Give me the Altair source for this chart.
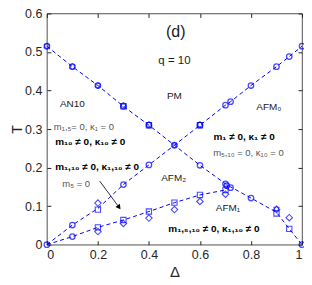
import altair as alt
import pandas as pd

# ---------------- data ----------------
# PM boundary (upper V-shaped dashed line)
up_delta = [0, 0.1, 0.2, 0.3, 0.4, 0.5, 0.6, 0.7, 0.72, 0.8, 0.9, 0.95, 1.0]
up_T = [0.515, 0.462, 0.413, 0.359, 0.310, 0.258, 0.310, 0.362, 0.371, 0.413, 0.462, 0.488, 0.515]

# AFM2 upper boundary (Λ-shaped dashed line)
mid_delta = [0, 0.1, 0.2, 0.3, 0.4, 0.5, 0.6, 0.7, 0.72, 0.8, 0.9, 0.95, 1.0]
mid_T = [0, 0.051, 0.094, 0.156, 0.207, 0.258, 0.206, 0.158, 0.150, 0.121, 0.084, 0.041, 0]

# AFM2 / AFM1 boundary (lower dashed line)
low_delta = [0, 0.1, 0.2, 0.3, 0.4, 0.5, 0.6, 0.7, 0.71]
low_T = [0, 0.021, 0.045, 0.064, 0.086, 0.109, 0.129, 0.142, 0.152]

# markers
circ_delta = up_delta + [0.1, 0.3, 0.4, 0.6, 0.7, 0.705, 0.72, 0.8, 1.0, 0.1, 0.0]
circ_T = up_T + [0.051, 0.156, 0.207, 0.206, 0.158, 0.153, 0.148, 0.121, 0.0, 0.021, 0.0]

sq_delta = [0.3, 0.4, 0.6, 0.2, 0.9, 0.95, 0.2, 0.3, 0.4, 0.5, 0.6, 0.7]
sq_T = [0.359, 0.310, 0.310, 0.091, 0.081, 0.041, 0.045, 0.064, 0.086, 0.109, 0.129, 0.142]

di_delta = [0.2, 0.9, 0.95, 0.2, 0.3, 0.4, 0.5, 0.6, 0.7]
di_T = [0.108, 0.091, 0.070, 0.034, 0.055, 0.069, 0.091, 0.112, 0.131]

hex_delta = [0, 0.1, 0.2, 0.3, 0.4, 0.5, 0.6, 0.9]
hex_T = [0.515, 0.462, 0.413, 0.362, 0.312, 0.258, 0.312, 0.093]

x_ticks = [0, 0.2, 0.4, 0.6, 0.8, 1]
y_ticks = [0, 0.1, 0.2, 0.3, 0.4, 0.5, 0.6]

# annotations
plain_text = ["(d)", "q = 10", "PM", "AN10", "AFM₀", "AFM₂", "AFM₁"]
plain_delta = [0.505, 0.50, 0.50, 0.10, 0.87, 0.497, 0.71]
plain_T = [0.553, 0.476, 0.387, 0.366, 0.356, 0.173, 0.094]
plain_size = [16, 11.5, 10, 10, 10, 10, 10]

gray_text = ["m₁,₅= 0, κ₁ = 0", "m₅,₁₀ = 0, κ₁₀ = 0", "m₅ = 0"]
gray_delta = [0.145, 0.79, 0.115]
gray_T = [0.305, 0.237, 0.158]

bold_text = ["m₁₀ ≠ 0, κ₁₀ ≠ 0", "m₁,₁₀ ≠ 0, κ₁,₁₀ ≠ 0", "m₁ ≠ 0, κ₁ ≠ 0", "m₁,₅,₁₀ ≠ 0, κ₁,₁₀ ≠ 0"]
bold_delta = [0.17, 0.197, 0.773, 0.655]
bold_T = [0.267, 0.201, 0.280, 0.041]

arrow_delta = [0.207, 0.283]
arrow_T = [0.165, 0.097]

# ---------------- build tables ----------------
lines_df = pd.concat([
    pd.DataFrame({"delta": up_delta, "T": up_T, "g": "up"}),
    pd.DataFrame({"delta": mid_delta, "T": mid_T, "g": "mid"}),
    pd.DataFrame({"delta": low_delta, "T": low_T, "g": "low"}),
])
circ_df = pd.DataFrame({"delta": circ_delta, "T": circ_T})
sq_df = pd.DataFrame({"delta": sq_delta, "T": sq_T})
di_df = pd.DataFrame({"delta": di_delta, "T": di_T})
hex_df = pd.DataFrame({"delta": hex_delta, "T": hex_T})
plain_df = pd.DataFrame({"delta": plain_delta, "T": plain_T, "text": plain_text, "size": plain_size})
gray_df = pd.DataFrame({"delta": gray_delta, "T": gray_T, "text": gray_text})
bold_df = pd.DataFrame({"delta": bold_delta, "T": bold_T, "text": bold_text})
arrow_df = pd.DataFrame({"delta": [arrow_delta[0]], "T": [arrow_T[0]],
                         "delta2": [arrow_delta[1]], "T2": [arrow_T[1]]})
head_df = pd.DataFrame({"delta": [arrow_delta[1]], "T": [arrow_T[1]]})

BLUE = "#0000ff"
FONT = "Liberation Sans"
TXT = "Liberation Sans, DejaVu Sans"
xs = alt.Scale(domain=[0, 1], nice=False)
ys = alt.Scale(domain=[0, 0.6], nice=False)

common_axis = dict(domain=False, grid=False, tickSize=4, offset=-4, tickColor="#262626",
                   labelFont=FONT, labelFontSize=12.5, labelColor="#262626",
                   titleFont=FONT, titleFontWeight="normal", titleColor="#262626")


def enc_noaxis():
    return dict(x=alt.X("delta:Q", scale=xs, axis=None), y=alt.Y("T:Q", scale=ys, axis=None))


lines = alt.Chart(lines_df).mark_line(color=BLUE, strokeWidth=1, strokeDash=[4, 3]).encode(
    x=alt.X("delta:Q", scale=xs,
            axis=alt.Axis(orient="bottom", values=x_ticks, format="~g", title="Δ",
                          titleFontSize=15, labelPadding=4, titlePadding=3, **common_axis)),
    y=alt.Y("T:Q", scale=ys,
            axis=alt.Axis(orient="left", values=y_ticks, format="~g", title="T",
                          titleFontSize=14, labelPadding=5, titlePadding=0, **common_axis)),
    detail="g:N",
)

circles = alt.Chart(circ_df).mark_point(shape="circle", color=BLUE, size=30, strokeWidth=1.3,
                                        filled=False).encode(
    x=alt.X("delta:Q", scale=xs,
            axis=alt.Axis(orient="top", values=x_ticks, labels=False, title=None, **common_axis)),
    y=alt.Y("T:Q", scale=ys,
            axis=alt.Axis(orient="right", values=y_ticks, labels=False, title=None, **common_axis)),
)

squares = alt.Chart(sq_df).mark_point(shape="square", color=BLUE, size=28, strokeWidth=1.1,
                                      filled=False).encode(**enc_noaxis())
diamonds = alt.Chart(di_df).mark_point(shape="diamond", color=BLUE, size=42, strokeWidth=1.1,
                                       filled=False).encode(**enc_noaxis())
HEX = ("M0,-1L0.29,-0.5L0.866,-0.5L0.577,0L0.866,0.5L0.29,0.5L0,1L-0.29,0.5"
       "L-0.866,0.5L-0.577,0L-0.866,-0.5L-0.29,-0.5Z")
hexes = alt.Chart(hex_df).mark_point(shape=HEX, color=BLUE, size=40, strokeWidth=1.0,
                                     filled=False).encode(**enc_noaxis())

plain = alt.Chart(plain_df).mark_text(font=TXT, color="#1a1a1a", baseline="middle",
                                      align="center").encode(
    text="text:N", size=alt.Size("size:Q", scale=None, legend=None), **enc_noaxis())
gray = alt.Chart(gray_df).mark_text(font=TXT, color="#555555", fontSize=9.5, baseline="middle",
                                    align="center").encode(text="text:N", **enc_noaxis())
bold = alt.Chart(bold_df).mark_text(font=TXT, color="#000000", fontSize=10, fontWeight="bold",
                                    baseline="middle", align="center").encode(text="text:N", **enc_noaxis())

arrow = alt.Chart(arrow_df).mark_rule(color="#000000", strokeWidth=0.8).encode(
    x=alt.X("delta:Q", scale=xs, axis=None), y=alt.Y("T:Q", scale=ys, axis=None),
    x2="delta2:Q", y2="T2:Q")
head = alt.Chart(head_df).mark_point(shape="triangle-up", filled=True, color="#000000", size=30,
                                     angle=144, opacity=1).encode(**enc_noaxis())

chart = alt.layer(lines, circles, squares, diamonds, hexes, plain, gray, bold, arrow, head).resolve_axis(
    x="independent", y="independent"
).properties(
    width=256, height=232,
    autosize=alt.AutoSizeParams(type="none"),
    padding={"left": 39, "top": 5, "right": 2, "bottom": 40},
).configure_view(stroke="#262626", strokeWidth=0.8)

chart.save("out.html", embed_options={"renderer": "svg", "actions": False})
